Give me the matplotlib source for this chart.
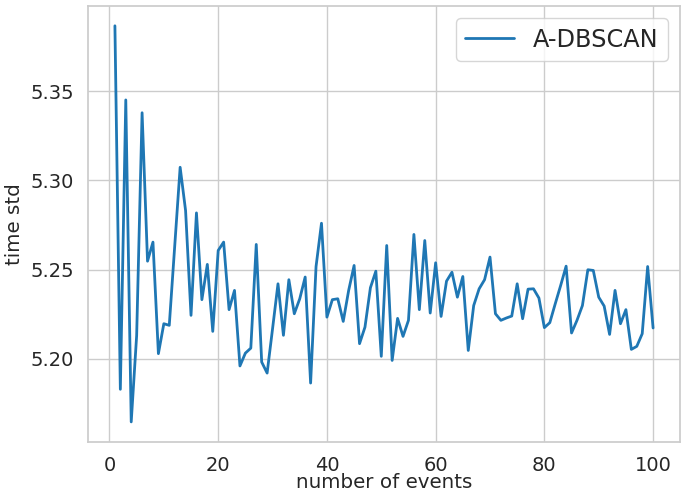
import matplotlib
matplotlib.use("Agg")
import matplotlib.pyplot as plt
import seaborn as sns

# number of events (x) and time std per event count
events = list(range(1, 101))
time_std = [
    5.3868, 5.1828, 5.3452, 5.1645, 5.2130, 5.3380, 5.2547, 5.2654, 5.2028, 5.2196,
    5.2187, 5.2631, 5.3074, 5.2831, 5.2243, 5.2818, 5.2331, 5.2529, 5.2153, 5.2607,
    5.2654, 5.2275, 5.2383, 5.1959, 5.2031, 5.2059, 5.2641, 5.1981, 5.1919, 5.2168,
    5.2420, 5.2131, 5.2443, 5.2252, 5.2336, 5.2458, 5.1863, 5.2517, 5.2760, 5.2233,
    5.2331, 5.2336, 5.2209, 5.2383, 5.2523, 5.2084, 5.2177, 5.2398, 5.2491, 5.2013,
    5.2635, 5.1990, 5.2226, 5.2125, 5.2215, 5.2697, 5.2275, 5.2663, 5.2256, 5.2538,
    5.2237, 5.2435, 5.2485, 5.2345, 5.2461, 5.2046, 5.2298, 5.2392, 5.2443, 5.2570,
    5.2252, 5.2215, 5.2228, 5.2239, 5.2420, 5.2224, 5.2390, 5.2392, 5.2340, 5.2174,
    5.2202, 5.2308, 5.2411, 5.2519, 5.2144, 5.2215, 5.2298, 5.2499, 5.2495, 5.2345,
    5.2295, 5.2136, 5.2383, 5.2196, 5.2275, 5.2052, 5.2069, 5.2140, 5.2517, 5.2172,
]
series_label = "A-DBSCAN"

sns.set_theme(style="whitegrid")

fig = plt.figure(figsize=(6.81, 4.94), dpi=100)
ax = fig.add_axes([88 / 681, 1 - 441.7 / 494, 592 / 681, 435.7 / 494])

ax.plot(events, time_std, color="#1f77b4", linewidth=2.0, label=series_label)

ax.tick_params(labelsize=14, pad=4)
ax.set_xlabel("number of events", fontsize=14.3, labelpad=-1)
ax.set_ylabel("time std", fontsize=14.3, labelpad=5)
ax.legend(loc="upper right", fontsize=17.3)

fig.savefig("out.png", dpi=100)
plt.close(fig)
